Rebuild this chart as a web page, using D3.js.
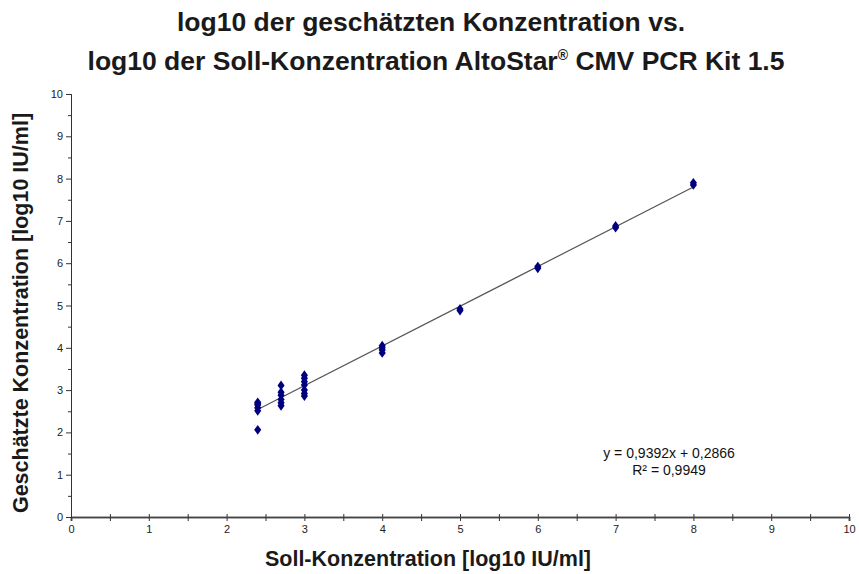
<!DOCTYPE html>
<html>
<head>
<meta charset="utf-8">
<script src="https://cdn.jsdelivr.net/npm/d3@7"></script>
<style>
  body { margin: 0; background: #fff; }
  svg { font-family: "Liberation Sans", Arial, sans-serif; }
</style>
</head>
<body>
<svg id="chart"></svg>
<script>
// Soll-Konzentration (x) and geschätzte Konzentration (y), log10 IU/ml
const sollX = [
    2.4, 2.4, 2.4, 2.4, 2.4, 2.4,
    2.7, 2.7, 2.7, 2.7, 2.7, 2.7,
    3, 3, 3, 3, 3, 3, 3,
    4, 4, 4, 4,
    5, 5,
    6, 6,
    7, 7,
    8, 8
];
const geschY = [
    2.71, 2.65, 2.58, 2.51, 2.06, 2.68,
    3.11, 2.95, 2.88, 2.78, 2.70, 2.63,
    3.35, 3.28, 3.20, 3.12, 3.00, 2.92, 2.86,
    4.05, 4.00, 3.95, 3.88,
    4.88, 4.92,
    5.88, 5.92,
    6.84, 6.88,
    7.85, 7.90
];
const slope = 0.9392, intercept = 0.2866;
const eqLabel = "y = 0,9392x + 0,2866";
const r2Label = "R² = 0,9949";
const majorTicks = d3.range(0, 11, 1);
const minorTicks = d3.range(0.5, 10, 1);

const width = 859, height = 574;
const margin = { top: 94, right: 10, bottom: 57, left: 71 };
const innerW = 849 - margin.left, innerH = 517 - margin.top;

const svg = d3.select("#chart")
    .attr("width", width)
    .attr("height", height);

const g = svg.append("g")
    .attr("transform", `translate(${margin.left},${margin.top})`);

const xScale = d3.scaleLinear().domain([0, 10]).range([0, innerW]);
const yScale = d3.scaleLinear().domain([0, 10]).range([innerH, 0]);

// title
const title = svg.append("text")
    .attr("text-anchor", "middle")
    .style("font-size", "26.5px")
    .style("font-weight", "bold")
    .attr("fill", "#1a1a1a");
title.append("tspan").attr("x", 431).attr("y", 31).text("log10 der geschätzten Konzentration vs.");
const t2 = title.append("tspan").attr("x", 436).attr("y", 70);
t2.append("tspan").text("log10 der Soll-Konzentration AltoStar");
t2.append("tspan").attr("dy", -10).style("font-size", "14px").text("®");
t2.append("tspan").attr("dy", 10).text(" CMV PCR Kit 1.5");

// axes
const tickFont = "\"Liberation Sans Narrow\", \"Arial Narrow\", sans-serif";

const xAxis = g.append("g")
    .attr("transform", `translate(0,${innerH})`)
    .call(d3.axisBottom(xScale).tickValues(majorTicks).tickSize(4).tickFormat(d3.format("d")));
const xMinor = g.append("g")
    .attr("transform", `translate(0,${innerH})`)
    .call(d3.axisBottom(xScale).tickValues(minorTicks).tickSize(4).tickFormat(""));
[xAxis, xMinor].forEach(a => {
    a.select(".domain").attr("stroke", "#444").attr("stroke-width", 1.5);
    a.selectAll(".tick line").attr("stroke", "#333").attr("y1", -3);
});
xAxis.selectAll(".tick text")
    .attr("y", 8)
    .style("font-family", tickFont)
    .style("font-size", "11px")
    .attr("fill", "#222");

const yAxis = g.append("g")
    .call(d3.axisLeft(yScale).tickValues(majorTicks).tickSize(5).tickFormat(d3.format("d")));
const yMinor = g.append("g")
    .call(d3.axisLeft(yScale).tickValues(minorTicks).tickSize(3).tickFormat(""));
[yAxis, yMinor].forEach(a => {
    a.select(".domain").attr("stroke", "#333").attr("stroke-width", 1);
    a.selectAll(".tick line").attr("stroke", "#333");
});
yAxis.selectAll(".tick text")
    .attr("x", -8)
    .style("font-family", tickFont)
    .style("font-size", "11px")
    .attr("fill", "#222");

// axis labels
svg.append("text")
    .attr("x", 428)
    .attr("y", 566)
    .attr("text-anchor", "middle")
    .style("font-size", "21.5px")
    .style("font-weight", "bold")
    .attr("fill", "#1a1a1a")
    .text("Soll-Konzentration [log10 IU/ml]");

svg.append("text")
    .attr("transform", "rotate(-90)")
    .attr("x", -313)
    .attr("y", 28)
    .attr("text-anchor", "middle")
    .style("font-size", "21.5px")
    .style("font-weight", "bold")
    .attr("fill", "#1a1a1a")
    .text("Geschätzte Konzentration [log10 IU/ml]");

// trendline
const xMin = d3.min(sollX), xMax = d3.max(sollX);
g.append("line")
    .attr("x1", xScale(xMin))
    .attr("y1", yScale(slope * xMin + intercept))
    .attr("x2", xScale(xMax))
    .attr("y2", yScale(slope * xMax + intercept))
    .attr("stroke", "#555")
    .attr("stroke-width", 1.2);

// points
const diamond = d3.symbol().type(d3.symbolDiamond).size(28);
g.selectAll(".pt")
    .data(sollX.map((x, i) => ({ x, y: geschY[i] })))
    .enter()
    .append("path")
    .attr("class", "pt")
    .attr("d", diamond)
    .attr("transform", d => `translate(${xScale(d.x)},${yScale(d.y)}) scale(1.25,1)`)
    .attr("fill", "#00007f");

// equation
const eq = svg.append("text")
    .attr("text-anchor", "middle")
    .style("font-size", "14px")
    .attr("fill", "#111");
eq.append("tspan").attr("x", 669).attr("y", 458).text(eqLabel);
eq.append("tspan").attr("x", 669).attr("y", 475).text(r2Label);
</script>
</body>
</html>
